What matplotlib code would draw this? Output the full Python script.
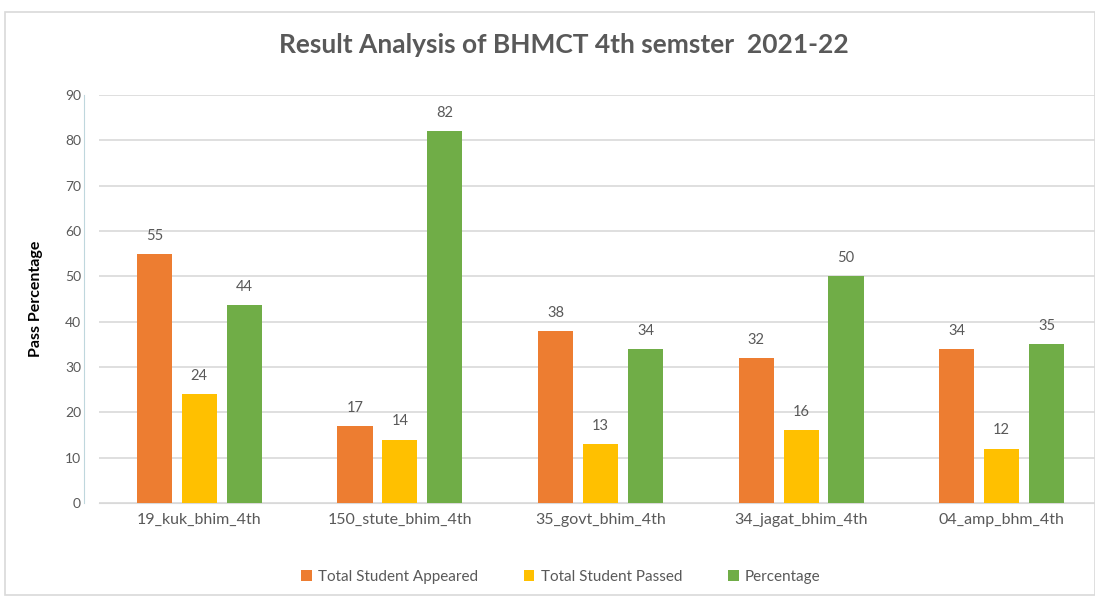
import matplotlib
matplotlib.use("Agg")
import matplotlib.pyplot as plt
import numpy as np
from matplotlib.patches import Rectangle

categories = ["19_kuk_bhim_4th", "150_stute_bhim_4th", "35_govt_bhim_4th", "34_jagat_bhim_4th", "04_amp_bhm_4th"]
appeared = [55, 17, 38, 32, 34]
passed = [24, 14, 13, 16, 12]
percentage = [43.6, 82, 34, 50, 35]
series_names = ["Total Student Appeared", "Total Student Passed", "Percentage"]
colors = ["#ED7D31", "#FFC000", "#70AD47"]

plt.rcParams['font.family'] = ['Lato', 'DejaVu Sans']
text_c = "#595959"

fig = plt.figure(figsize=(10.95, 6.0), dpi=100)
fig.patches.append(Rectangle((5/1095, 5/600), 1 - 5/1095, 1 - 17/600, transform=fig.transFigure,
                             fill=False, edgecolor="#D9D9D9", lw=1.2))
ax = fig.add_axes([99/1095, 1 - 503/600, 996/1095, (503 - 95)/600])

x = np.arange(len(categories))
w = 0.175
off = 0.224
for i, (vals, c, name) in enumerate(zip([appeared, passed, percentage], colors, series_names)):
    bars = ax.bar(x + (i - 1) * off, vals, width=w, color=c, label=name, zorder=3)
    for b, v in zip(bars, vals):
        ax.annotate(f"{v:.0f}", (b.get_x() + b.get_width() / 2, v), xytext=(0, 8),
                    textcoords="offset points", ha="center", va="bottom",
                    fontsize=10.5, color=text_c)

ax.set_xlim(-0.5, -0.5 + 996 / 200.6)
ax.set_ylim(0, 90)
ax.set_yticks(range(0, 91, 10))
ax.yaxis.grid(True, color="#D9D9D9", lw=1.2, zorder=0)
ax.set_xticks(x)
ax.set_xticklabels(categories, fontsize=11.5, color=text_c)
ax.tick_params(axis="y", labelsize=10, labelcolor=text_c, length=0, pad=2)
ax.tick_params(axis="x", length=0, pad=7)
for s in ["top", "right"]:
    ax.spines[s].set_visible(False)
ax.spines["bottom"].set_color("#D9D9D9")
ax.spines["left"].set_color("#BFD7DD")
ax.spines["left"].set_position(("outward", 11))

ax.set_ylabel("Pass Percentage", fontsize=11.5, fontweight="bold", color="black", labelpad=16)
fig.text(0.515, 1 - 45/600, "Result Analysis of BHMCT 4th semster  2021-22", ha="center", va="center",
         fontsize=19, color=text_c, fontweight="bold")

leg = fig.legend(loc="center", bbox_to_anchor=(0.512, 1 - 577/600), ncol=3, frameon=False,
                 fontsize=11, handlelength=0.7, handleheight=0.7, columnspacing=3.0, handletextpad=0.4)
for t in leg.get_texts():
    t.set_color(text_c)

fig.savefig("out.png", dpi=100)
